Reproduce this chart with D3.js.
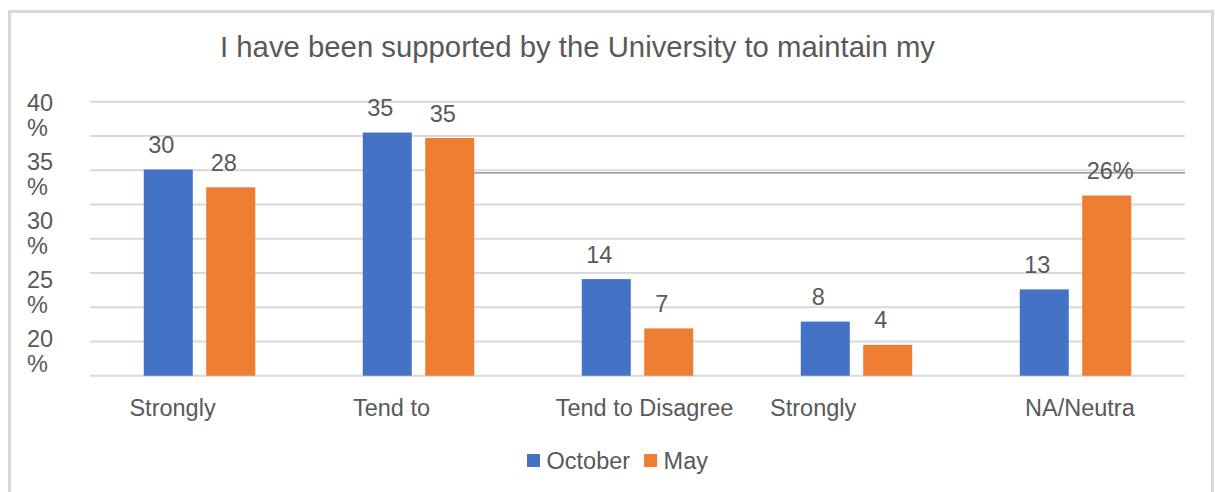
<!DOCTYPE html>
<html><head><meta charset="utf-8">
<script src="https://cdn.jsdelivr.net/npm/d3@7"></script>
<style>
body{margin:0;background:#fff}
text{font-family:"Liberation Sans",Arial,sans-serif;fill:#595959}
</style>
</head><body><svg id="c" width="1215" height="492"></svg>
<script>
const categories = ["Strongly Agree","Tend to Agree","Tend to Disagree","Strongly Disagree","NA/Neutral"];
const categoryShown = ["Strongly","Tend to","Tend to Disagree","Strongly","NA/Neutra"];
const seriesNames = ["October","May"];
const october = [30.1,35.5,14.1,7.9,12.6];
const may = [27.5,34.7,6.9,4.5,26.3];
const octoberLabels = ["30","35","14","8","13"];
const mayLabels = ["28","35","7","4","26%"];
const yTickLabels = ["40","35","30","25","20"];
const gridValues = [0,5,10,15,20,25,30,35,40];
const refLineValue = 29.6;
const title = "I have been supported by the University to maintain my";
const colors = {October:"#4472C4", May:"#ED7D31"};

const svg = d3.select("#c");
const plot = {left:90, right:1185, top:101.7, bottom:375.7};

// frame
svg.append("rect").attr("x",9.5).attr("y",11.5).attr("width",1203).attr("height",520)
  .attr("fill","#fff").attr("stroke","#d9d9d9").attr("stroke-width",3);

const y = d3.scaleLinear().domain([0,40]).range([plot.bottom, plot.top]);
const x0 = d3.scaleBand().domain(categories).range([plot.left, plot.right])
  .paddingInner(0.491).paddingOuter(0.2455);
const x1 = d3.scaleBand().domain(seriesNames).range([0, x0.bandwidth()]).paddingInner(0.215);

// gridlines
svg.append("g").selectAll("line").data(gridValues).join("line")
  .attr("x1",plot.left).attr("x2",plot.right)
  .attr("y1",d=>y(d)).attr("y2",d=>y(d))
  .attr("stroke","#d9d9d9").attr("stroke-width",2);

// odd reference line
svg.append("line")
  .attr("x1", x0(categories[1]) + x1("May"))
  .attr("x2", plot.right)
  .attr("y1", y(refLineValue)).attr("y2", y(refLineValue))
  .attr("stroke","#7f7f7f").attr("stroke-width",1.3);

// bars
const data = [];
categories.forEach((c,i)=>{
  data.push({cat:c, s:"October", v:october[i], label:octoberLabels[i]});
  data.push({cat:c, s:"May", v:may[i], label:mayLabels[i]});
});
svg.append("g").selectAll("rect").data(data).join("rect")
  .attr("x",d=>x0(d.cat)+x1(d.s))
  .attr("width",x1.bandwidth())
  .attr("y",d=>y(d.v))
  .attr("height",d=>y(0)-y(d.v))
  .attr("fill",d=>colors[d.s]);

// value labels
const lg = svg.append("g");
data.forEach(d=>{
  const num = d.label.replace("%","");
  const suffix = d.label.endsWith("%") ? "%" : "";
  const t = lg.append("text").attr("font-size",23.5).attr("y", y(d.v)-16.5).text(num);
  const w = t.node().getComputedTextLength();
  const cx = x0(d.cat)+x1(d.s)+x1.bandwidth()/2 - 7;
  t.attr("x", cx - w/2);
  if (suffix) t.append("tspan").text(suffix);
});

// y tick labels (as drawn in the source, two lines each)
const yl = svg.append("g");
const step = (plot.bottom-plot.top)*0.2148;
yTickLabels.forEach((lab,i)=>{
  const by = plot.top + 9.7 + i*step;
  yl.append("text").attr("x",27).attr("y",by).attr("font-size",23.5).text(lab);
  yl.append("text").attr("x",27).attr("y",by+25).attr("font-size",23.5).text("%");
});

// category labels (truncated like the source)
const cl = svg.append("g");
categories.forEach((c,i)=>{
  const tmp = cl.append("text").attr("font-size",23.5).text(c);
  const fw = tmp.node().getComputedTextLength();
  tmp.remove();
  cl.append("text").attr("font-size",23.5)
    .attr("x", x0(c)+x0.bandwidth()/2 - fw/2 + 7)
    .attr("y", 416).text(categoryShown[i]);
});

// title
svg.append("text").attr("x",577.5).attr("y",57).attr("text-anchor","middle")
  .attr("font-size",29.3).text(title);

// legend
const leg = svg.append("g");
let lx = 527;
seriesNames.forEach(s=>{
  leg.append("rect").attr("x",lx).attr("y",454).attr("width",13).attr("height",13).attr("fill",colors[s]);
  const t = leg.append("text").attr("x",lx+19.5).attr("y",469).attr("font-size",23.5).text(s);
  lx += 19.5 + t.node().getComputedTextLength() + 14;
});
</script>
</body></html>
